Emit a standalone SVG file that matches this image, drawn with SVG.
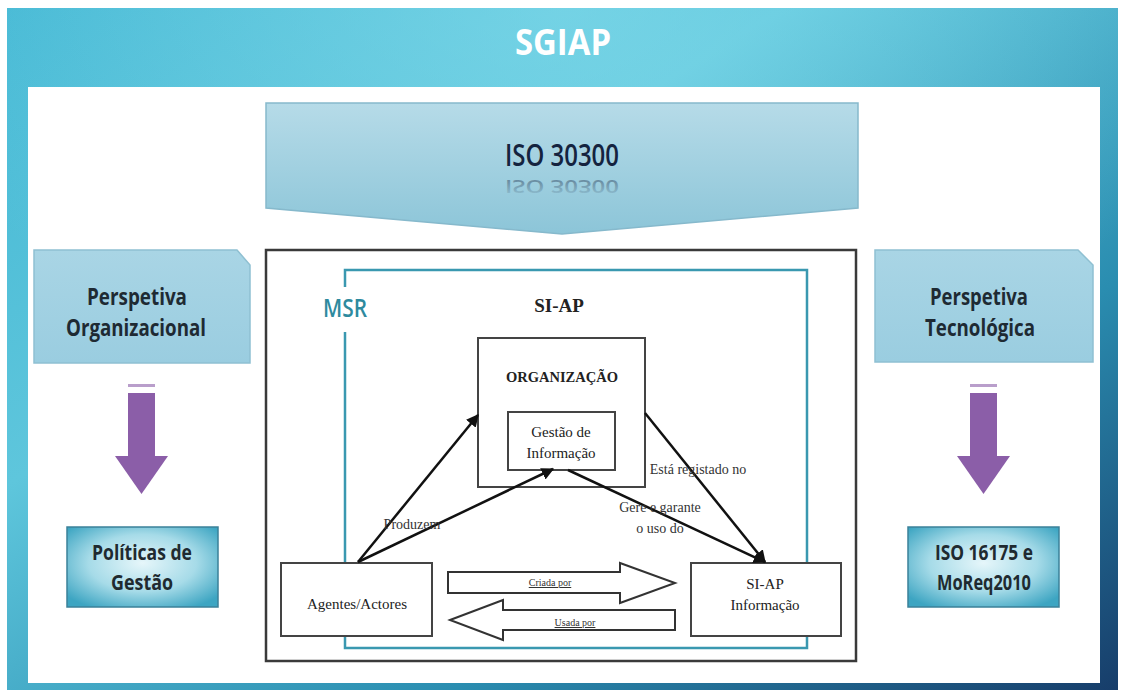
<svg xmlns="http://www.w3.org/2000/svg" width="1121" height="691" viewBox="0 0 1121 691">
<style>
.persp{font-family:"Open Sans","Liberation Sans",sans-serif;font-weight:700;font-size:24px;fill:#1e2a33;text-anchor:middle}
.std{font-family:"Open Sans","Liberation Sans",sans-serif;font-weight:700;font-size:21px;fill:#1f2a30;text-anchor:middle}
.serif{font-family:"Liberation Serif",serif;font-weight:bold;fill:#222;text-anchor:middle}
.reg{font-family:"Liberation Serif",serif;font-weight:normal;font-size:15px;fill:#222;text-anchor:middle}
.lbl{font-family:"Liberation Serif",serif;font-size:14px;fill:#333;text-anchor:middle}
.small{font-family:"Liberation Serif",serif;font-size:10px;fill:#333;text-anchor:middle;text-decoration:underline}
.box{fill:#fff;stroke:#444;stroke-width:2}
.conn{stroke:#111;stroke-width:2.5;fill:none;marker-end:url(#ah)}
.blk{fill:#fff;stroke:#333;stroke-width:2}
.purple{fill:#8b5ea8}
</style>
<defs>
<linearGradient id="frameG" x1="0" y1="0" x2="1" y2="1">
<stop offset="0" stop-color="#45b8d4"/>
<stop offset="0.35" stop-color="#5ec6dc"/>
<stop offset="0.7" stop-color="#2a8db0"/>
<stop offset="1" stop-color="#173d6a"/>
</linearGradient>
<radialGradient id="glow" cx="0.5" cy="0" r="0.6">
<stop offset="0" stop-color="#8be0ee" stop-opacity="0.55"/>
<stop offset="1" stop-color="#8be0ee" stop-opacity="0"/>
</radialGradient>
<linearGradient id="chevG" x1="0" y1="0" x2="0" y2="1">
<stop offset="0" stop-color="#b6dbe8"/>
<stop offset="1" stop-color="#8cc5d8"/>
</linearGradient>
<linearGradient id="perspG" x1="0" y1="0" x2="0" y2="1">
<stop offset="0" stop-color="#a9d5e5"/>
<stop offset="1" stop-color="#9acde0"/>
</linearGradient>
<radialGradient id="stdG" cx="0.5" cy="0.45" r="0.65">
<stop offset="0" stop-color="#e6f6fa"/>
<stop offset="0.55" stop-color="#a6dbe8"/>
<stop offset="1" stop-color="#3da5c2"/>
</radialGradient>
<linearGradient id="reflG" x1="0" y1="0" x2="0" y2="1">
<stop offset="0" stop-color="#14233f" stop-opacity="0"/>
<stop offset="1" stop-color="#14233f" stop-opacity="0.5"/>
</linearGradient>
<marker id="ah" viewBox="0 0 10 10" refX="9" refY="5" markerWidth="5" markerHeight="5" orient="auto" markerUnits="strokeWidth">
<path d="M0,0 L10,5 L0,10 z" fill="#111"/>
</marker>
</defs>

<g id="frame">
<rect x="7" y="8" width="1111" height="682" fill="url(#frameG)"/>
<rect x="7" y="8" width="1111" height="682" fill="url(#glow)"/>
<text x="563" y="55" font-family="'Open Sans','Liberation Sans',sans-serif" font-weight="bold" font-size="36" fill="#fff" text-anchor="middle" textLength="96" lengthAdjust="spacingAndGlyphs">SGIAP</text>
<rect x="28" y="87" width="1072" height="596" fill="#fff"/>
</g>

<g id="iso30300">
<polygon points="266,103 858,103 858,208 562,234 266,208" fill="url(#chevG)" stroke="#86b9cc" stroke-width="1.5"/>
<text x="562" y="166" font-family="'Open Sans','Liberation Sans',sans-serif" font-weight="600" font-size="30" fill="#14233f" text-anchor="middle" textLength="114" lengthAdjust="spacingAndGlyphs">ISO 30300</text>
<text x="562" y="0" transform="translate(0,180) scale(1,-0.6)" font-family="'Open Sans','Liberation Sans',sans-serif" font-weight="600" font-size="30" fill="url(#reflG)" text-anchor="middle" textLength="114" lengthAdjust="spacingAndGlyphs">ISO 30300</text>
</g>

<g id="persp-org">
<polygon points="34,250 237,250 250,265 250,363 34,363" fill="url(#perspG)" stroke="#8fc0d2" stroke-width="1.5"/>
<text class="persp" x="137" y="305" textLength="100" lengthAdjust="spacingAndGlyphs">Perspetiva</text>
<text class="persp" x="136" y="336" textLength="140" lengthAdjust="spacingAndGlyphs">Organizacional</text>
</g>

<g id="arrow-org">
<rect x="128" y="384" width="27" height="3" fill="#8b5ea8" opacity="0.6"/>
<rect class="purple" x="128" y="393" width="27" height="63"/>
<polygon class="purple" points="115,456 168,456 141.5,494"/>
</g>

<g id="politicas">
<rect x="67" y="527" width="151" height="80" fill="url(#stdG)" stroke="#3b8199" stroke-width="1.5"/>
<text class="std" x="142" y="560" textLength="100" lengthAdjust="spacingAndGlyphs">Políticas de</text>
<text class="std" x="142" y="590" textLength="62" lengthAdjust="spacingAndGlyphs">Gestão</text>
</g>

<g id="persp-tec">
<polygon points="875,250 1078,250 1093,265 1093,362 875,362" fill="url(#perspG)" stroke="#8fc0d2" stroke-width="1.5"/>
<text class="persp" x="979" y="305" textLength="98" lengthAdjust="spacingAndGlyphs">Perspetiva</text>
<text class="persp" x="980" y="336" textLength="110" lengthAdjust="spacingAndGlyphs">Tecnológica</text>
</g>

<g id="arrow-tec">
<rect x="970" y="384" width="27" height="3" fill="#8b5ea8" opacity="0.6"/>
<rect class="purple" x="970" y="393" width="27" height="63"/>
<polygon class="purple" points="957,456 1010,456 983.5,494"/>
</g>

<g id="iso16175">
<rect x="908" y="527" width="151" height="80" fill="url(#stdG)" stroke="#3b8199" stroke-width="1.5"/>
<text class="std" x="984" y="560" textLength="98" lengthAdjust="spacingAndGlyphs">ISO 16175 e</text>
<text class="std" x="984" y="590" textLength="94" lengthAdjust="spacingAndGlyphs">MoReq2010</text>
</g>

<g id="siap-frame">
<rect x="266" y="250" width="590" height="411" fill="#fff" stroke="#3a3a3a" stroke-width="2.5"/>
</g>

<g id="msr">
<path d="M345,287 L345,270 L807,270 L807,648 L345,648 L345,332" fill="none" stroke="#3a98b0" stroke-width="2.5"/>
<text x="345" y="317" font-family="'Open Sans','Liberation Sans',sans-serif" font-weight="600" font-size="25" fill="#2e8a9e" text-anchor="middle" textLength="44" lengthAdjust="spacingAndGlyphs">MSR</text>
</g>

<text class="serif" x="559" y="312" font-size="19">SI-AP</text>

<g id="organizacao">
<rect class="box" x="478" y="338" width="167" height="149"/>
<text class="serif" x="562" y="382" font-size="14" textLength="112" lengthAdjust="spacingAndGlyphs">ORGANIZAÇÃO</text>
</g>

<g id="gestao">
<rect class="box" x="508" y="412" width="107" height="58"/>
<text class="reg" x="561" y="437">Gestão de</text>
<text class="reg" x="561" y="458">Informação</text>
</g>

<g id="agentes">
<rect class="box" x="281" y="563" width="151" height="73"/>
<text class="reg" x="357" y="609" font-size="16">Agentes/Actores</text>
</g>

<g id="siap-info">
<rect class="box" x="691" y="563" width="150" height="73"/>
<text class="reg" x="765" y="589" font-size="16">SI-AP</text>
<text class="reg" x="765" y="610" font-size="16">Informação</text>
</g>

<g id="connectors">
<line class="conn" x1="358" y1="562" x2="478" y2="415"/>
<line class="conn" x1="358" y1="562" x2="553" y2="469"/>
<line class="conn" x1="645" y1="413" x2="765" y2="562"/>
<line class="conn" x1="568" y1="470" x2="765" y2="562"/>
<polygon class="blk" points="448,572 620,572 620,563 675,583 620,603 620,593 448,593"/>
<polygon class="blk" points="450,620 503,600 503,610 675,610 675,630 503,630 503,640"/>
<text class="small" x="550" y="586">Criada por</text>
<text class="small" x="575" y="626">Usada por</text>
<text class="lbl" x="412" y="529">Produzem</text>
<text class="lbl" x="698" y="474">Está registado no</text>
<text class="lbl" x="660" y="512">Gere e garante</text>
<text class="lbl" x="660" y="533">o uso do</text>
</g>
</svg>
